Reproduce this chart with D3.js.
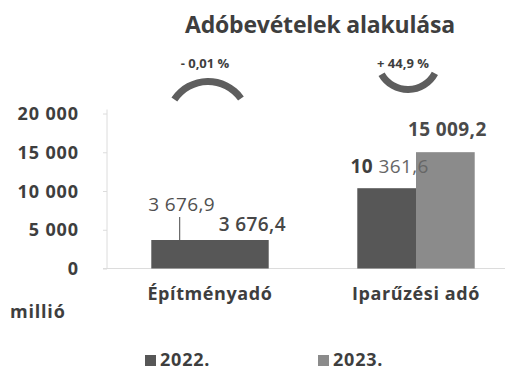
<!DOCTYPE html>
<html>
<head>
<meta charset="utf-8">
<script src="https://cdn.jsdelivr.net/npm/d3@7"></script>
<style>
  html, body { margin: 0; padding: 0; background: #ffffff; }
  svg { display: block; font-family: "Open Sans", "DejaVu Sans", sans-serif; }
</style>
</head>
<body>
<svg id="chart" width="516" height="373"></svg>
<script>
// Adóbevételek (millió Ft), 2022 vs 2023
const categories = ["Építményadó", "Iparűzési adó"];
const seriesNames = ["2022.", "2023."];
const values2022 = [3676.9, 10361.6];
const values2023 = [3676.4, 15009.2];
const valueLabels2022 = ["3 676,9", "10 361,6"];
const valueLabels2023 = ["3 676,4", "15 009,2"];
const changeLabels = ["- 0,01 %", "+ 44,9 %"];
const yTicks = [0, 5000, 10000, 15000, 20000];
const yTickLabels = ["0", "5 000", "10 000", "15 000", "20 000"];

const svg = d3.select("#chart");
const ink = "#3e3e3e";
const dark = "#575757";
const light = "#8b8b8b";

// Plot frame
const plotLeft = 107, plotRight = 519, plotTop = 113.5, plotBottom = 268.5;

const x = d3.scaleBand().domain(categories).range([plotLeft, plotRight])
  .paddingInner(0.43).paddingOuter(0.215);
const xs = d3.scaleBand().domain(seriesNames).range([0, x.bandwidth()]);
const y = d3.scaleLinear().domain([0, 20000]).range([plotBottom, plotTop]);

// Title
svg.append("text").attr("x", 320).attr("y", 33).attr("text-anchor", "middle")
  .attr("font-size", 23).attr("font-weight", 700).attr("fill", ink)
  .attr("letter-spacing", -0.2)
  .text("Adóbevételek alakulása");

// Axes
const yAxis = d3.axisLeft(y).tickValues(yTicks)
  .tickFormat((d, i) => yTickLabels[i]).tickSize(4).tickPadding(24);
const gy = svg.append("g").attr("transform", `translate(${plotLeft},0)`).call(yAxis);
gy.select(".domain").attr("stroke", "#dcdcdc").attr("d", `M0,${plotTop - 4}V${plotBottom}`);
gy.selectAll(".tick line").attr("stroke", "#dcdcdc");
gy.selectAll(".tick text").attr("font-size", 18).attr("font-weight", 700)
  .attr("fill", ink).attr("font-family", "'Open Sans', sans-serif")
  .attr("letter-spacing", 0.9).attr("dy", "0.34em");

svg.append("line").attr("x1", plotLeft - 4).attr("x2", 505)
  .attr("y1", y(0)).attr("y2", y(0)).attr("stroke", "#dcdcdc").attr("stroke-width", 1.2);

// Bars
const rows = categories.map((c, i) => ({ cat: c, vals: [values2022[i], values2023[i]] }));
const seriesFill = [dark, light];
const g = svg.append("g");
rows.forEach((r, ci) => {
  r.vals.forEach((v, si) => {
    // the building-tax pair is printed in the darker tone for both years
    const fill = ci === 0 ? dark : seriesFill[si];
    g.append("rect")
      .attr("x", x(r.cat) + xs(seriesNames[si]))
      .attr("y", y(v))
      .attr("width", xs.bandwidth())
      .attr("height", y(0) - y(v))
      .attr("fill", fill);
  });
});

// Value labels
const labelStyle = [
  [{ dx: 1, dy: -29, w: 400, c: "#505050" }, { dx: 13, dy: -9, w: 600, c: "#474747" }],
  [{ dx: 3, dy: -15, w: 400, c: "#666" }, { dx: 2, dy: -16, w: 700, c: "#4a4a4a" }]
];
const valueLabels = [valueLabels2022, valueLabels2023];
rows.forEach((r, ci) => {
  r.vals.forEach((v, si) => {
    const st = labelStyle[ci][si];
    const cx = x(r.cat) + xs(seriesNames[si]) + xs.bandwidth() / 2;
    const t = svg.append("text")
      .attr("x", cx + st.dx).attr("y", y(v) + st.dy)
      .attr("text-anchor", "middle").attr("font-size", 19)
      .attr("letter-spacing", 0.4)
      .attr("font-weight", st.w).attr("fill", st.c);
    const lbl = valueLabels[si][ci];
    if (ci === 1 && si === 0) {
      const parts = lbl.split(" ");
      t.append("tspan").attr("font-weight", 700).attr("fill", ink).text(parts[0] + " ");
      t.append("tspan").text(parts[1]);
    } else {
      t.text(lbl);
    }
    if (ci === 0 && si === 0) {
      svg.append("line").attr("x1", cx - 1).attr("x2", cx - 1)
        .attr("y1", y(v) + st.dy + 6).attr("y2", y(v))
        .attr("stroke", "#666").attr("stroke-width", 1.2);
    }
  });
});

// Category labels
categories.forEach(c => {
  svg.append("text").attr("x", x(c) + x.bandwidth() / 2).attr("y", 300)
    .attr("text-anchor", "middle").attr("font-size", 18).attr("font-weight", 700)
    .attr("letter-spacing", 0.6)
    .attr("fill", ink).text(c);
});

svg.append("text").attr("x", 10).attr("y", 318).attr("font-size", 18)
  .attr("font-weight", 700).attr("letter-spacing", 0.8).attr("fill", ink).text("millió");

// Change arrows and percentages
const arcGen = d3.arc();
const arcs = [
  { cx: 208, cy: 122, r0: 37, r1: 44, a0: -0.98, a1: 0.95 },
  { cx: 408, cy: 59, r0: 27, r1: 34, a0: Math.PI - 1.08, a1: Math.PI + 1.05 }
];
categories.forEach((c, i) => {
  const a = arcs[i];
  svg.append("path")
    .attr("transform", `translate(${a.cx},${a.cy})`)
    .attr("d", arcGen({ innerRadius: a.r0, outerRadius: a.r1, startAngle: a.a0, endAngle: a.a1, cornerRadius: 2 }))
    .attr("fill", "#5e5e5e");
  svg.append("text").attr("x", i === 0 ? 205 : 403).attr("y", 68)
    .attr("text-anchor", "middle").attr("font-size", 13).attr("font-weight", 700)
    .attr("fill", ink).text(changeLabels[i]);
});

// Legend
const legendX = [145, 318];
seriesNames.forEach((s, i) => {
  svg.append("rect").attr("x", legendX[i]).attr("y", 355).attr("width", 11).attr("height", 11)
    .attr("fill", seriesFill[i]);
  svg.append("text").attr("x", legendX[i] + 15).attr("y", 366).attr("font-size", 18)
    .attr("font-weight", 700).attr("letter-spacing", 0.8).attr("fill", ink).text(s);
});
</script>
</body>
</html>
